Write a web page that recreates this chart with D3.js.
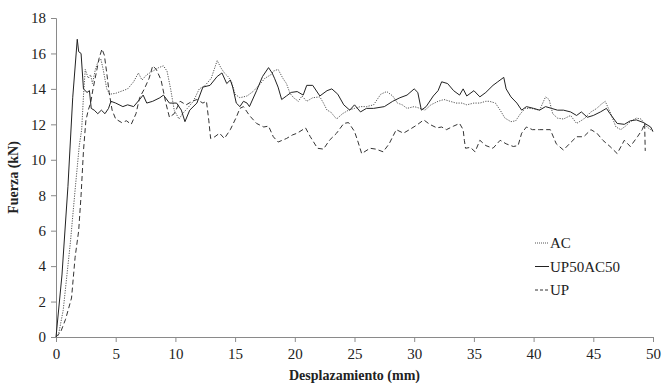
<!DOCTYPE html>
<html>
<head>
<meta charset="utf-8">
<script src="https://cdn.jsdelivr.net/npm/d3@7"></script>
<style>
  body { margin: 0; background: #fff; }
  svg { display: block; font-family: "Liberation Serif", "Times New Roman", serif; }
</style>
</head>
<body>
<div id="chart"></div>
<script>
// ensayo fuerza-desplazamiento, tres materiales
var seriesNames = ["AC", "UP50AC50", "UP"];
var xTicks = [0, 5, 10, 15, 20, 25, 30, 35, 40, 45, 50];
var yTicks = [0, 2, 4, 6, 8, 10, 12, 14, 16, 18];

var acData = [[0,0],[0.2,0.1],[0.6,1.5],[1.2,5.3],[1.6,8.3],[1.95,10.8],[2.15,11.7],[2.3,13.6],[2.45,15.1],[2.7,14.6],[2.9,14.8],[3.05,14.3],[3.3,15.1],[3.5,15.5],[3.75,15.7],[3.95,15.1],[4.25,14.0],[4.5,13.7],[5.0,13.75],[5.6,13.9],[6.0,14.0],[6.5,14.4],[6.9,14.9],[7.2,14.5],[7.6,14.8],[8.1,15.0],[8.6,15.2],[9.0,15.3],[9.3,15.0],[9.6,14.0],[9.9,12.8],[10.3,12.3],[10.6,12.6],[11.0,12.9],[11.5,13.3],[12.0,14.0],[12.5,14.2],[13.0,14.6],[13.3,15.2],[13.5,15.6],[13.8,15.2],[14.1,14.9],[14.4,14.7],[14.7,14.4],[15.0,13.7],[15.4,13.5],[16.0,13.6],[16.5,13.85],[17.0,14.2],[17.5,14.6],[18.0,14.8],[18.2,15.0],[18.6,15.1],[19.0,14.6],[19.3,14.3],[19.6,13.75],[19.9,13.5],[20.3,13.3],[20.6,13.6],[21.0,13.3],[21.5,13.5],[22.1,13.55],[22.4,13.2],[22.7,12.8],[23.0,12.7],[23.5,12.3],[24.0,12.6],[24.5,12.8],[25.0,12.9],[25.5,13.0],[26.0,13.0],[26.6,13.1],[27.2,13.7],[27.7,13.85],[28.2,13.6],[28.6,13.2],[29.0,13.1],[29.4,12.9],[30.0,13.0],[30.5,12.9],[30.9,12.8],[31.4,13.1],[32.0,13.3],[32.5,13.4],[33.0,13.3],[33.5,13.2],[34.0,13.2],[34.4,13.1],[35.0,13.2],[35.5,13.2],[36.0,13.3],[36.3,13.3],[36.8,13.2],[37.2,12.8],[37.6,12.35],[38.1,12.15],[38.5,12.2],[38.9,12.6],[39.3,12.9],[39.8,12.9],[40.5,12.8],[41.0,13.55],[41.3,13.4],[41.6,12.6],[42.0,12.35],[42.5,12.3],[43.1,12.5],[43.6,12.05],[44.2,12.3],[44.8,12.7],[45.3,12.9],[45.6,13.1],[46.0,13.3],[46.4,12.7],[46.9,11.85],[47.3,11.7],[47.7,11.9],[48.1,12.15],[48.6,12.35],[49.0,12.3],[49.5,11.85],[50.0,11.6]];

var upacData = [[0,0],[0.5,3.5],[1.0,8.5],[1.4,13.5],[1.78,16.8],[1.9,16.1],[2.1,16.0],[2.3,14.0],[2.6,13.8],[2.8,13.9],[2.95,12.9],[3.2,12.8],[3.5,12.6],[3.8,12.8],[4.1,12.6],[4.4,12.9],[4.6,13.3],[5.0,13.2],[5.6,13.0],[6.0,13.1],[6.5,13.0],[7.0,13.4],[7.3,13.65],[7.6,13.2],[8.1,13.3],[8.7,13.5],[9.0,13.65],[9.5,13.2],[10.1,13.2],[10.5,12.8],[10.8,12.15],[11.2,12.8],[11.8,13.2],[12.3,14.1],[12.9,14.2],[13.5,14.7],[13.9,14.9],[14.3,14.3],[14.6,14.5],[14.8,14.1],[15.1,13.2],[15.4,13.0],[15.7,13.3],[16.0,13.2],[16.2,13.0],[16.8,13.9],[17.3,14.7],[17.8,15.2],[18.1,14.9],[18.3,14.6],[18.6,14.1],[18.9,13.4],[19.3,13.6],[19.7,13.8],[20.2,13.85],[20.7,13.65],[21.0,14.2],[21.5,14.2],[22.1,13.6],[22.7,13.9],[23.1,14.0],[23.6,13.7],[24.1,13.1],[24.6,12.8],[25.0,13.1],[25.5,12.7],[26.0,12.9],[26.6,12.9],[27.5,13.0],[28.2,13.3],[28.8,13.5],[29.4,13.65],[30.0,14.0],[30.3,13.8],[30.6,12.8],[31.0,13.0],[31.6,13.6],[32.0,13.9],[32.3,14.4],[32.8,14.3],[33.3,13.9],[33.8,13.65],[34.1,14.0],[34.4,13.6],[35.0,13.9],[35.5,13.55],[36.0,13.8],[36.6,14.2],[37.0,14.4],[37.5,14.65],[37.7,14.0],[38.1,13.55],[38.6,13.2],[39.0,12.8],[39.4,13.0],[40.0,12.9],[40.5,12.8],[41.0,13.0],[41.5,12.9],[42.0,12.8],[42.5,12.8],[43.1,12.7],[43.6,12.5],[44.0,12.7],[44.5,12.4],[45.0,12.5],[45.6,12.7],[46.1,12.9],[46.4,12.6],[47.0,12.05],[47.6,12.0],[48.1,12.2],[48.6,12.25],[49.2,12.1],[49.8,11.85],[50.0,11.6]];

var upData = [[0,0],[0.4,0.3],[0.8,1.0],[1.3,2.2],[1.6,4.5],[1.9,6.0],[2.1,8.0],[2.3,10.5],[2.5,12.2],[2.7,12.8],[2.9,13.2],[3.1,14.0],[3.4,15.0],[3.6,15.7],[3.85,16.25],[4.05,15.9],[4.25,14.9],[4.45,13.8],[4.7,12.8],[5.0,12.3],[5.5,12.1],[5.9,12.2],[6.3,12.0],[6.7,12.6],[7.0,13.5],[7.4,14.0],[7.8,14.6],[8.1,15.3],[8.4,15.1],[8.8,14.5],[9.2,13.2],[9.5,12.4],[9.9,12.6],[10.4,13.3],[10.9,13.1],[11.4,13.3],[11.8,13.4],[12.3,13.2],[12.6,13.3],[12.8,12.2],[12.95,11.2],[13.3,11.3],[13.7,11.5],[14.1,11.2],[14.6,11.7],[15.1,12.4],[15.4,12.9],[15.7,13.0],[16.0,12.7],[16.2,12.5],[16.8,12.05],[17.4,11.85],[17.8,11.9],[18.2,11.3],[18.6,11.0],[19.3,11.2],[19.8,11.4],[20.2,11.5],[20.9,11.8],[21.3,11.3],[21.9,10.65],[22.4,10.6],[22.9,11.1],[23.5,11.5],[24.1,12.05],[24.5,12.1],[25.0,11.6],[25.3,11.0],[25.6,10.35],[26.3,10.65],[26.8,10.6],[27.4,10.45],[27.9,10.9],[28.5,11.7],[29.1,11.5],[29.6,11.7],[30.2,11.95],[30.8,12.25],[31.3,12.0],[31.9,11.8],[32.3,11.85],[32.7,11.7],[33.3,11.9],[33.8,12.05],[34.1,11.7],[34.2,11.1],[34.3,10.65],[34.7,10.7],[35.1,10.45],[35.5,11.1],[36.0,10.8],[36.6,10.65],[37.2,11.1],[37.7,10.9],[38.3,10.75],[38.7,10.8],[39.0,11.5],[39.4,11.85],[39.9,11.7],[40.5,11.7],[41.0,11.7],[41.4,11.7],[41.9,10.9],[42.5,10.55],[43.0,10.9],[43.6,11.3],[44.2,11.3],[44.8,11.7],[45.3,11.5],[45.8,11.1],[46.4,10.75],[47.0,10.35],[47.6,11.1],[48.1,10.75],[48.7,11.3],[49.1,11.7],[49.3,12.05],[49.35,10.5]];

var margin = {top: 18, right: 9, bottom: 46, left: 56},
    width = 662 - margin.left - margin.right,
    height = 383 - margin.top - margin.bottom;

var svg = d3.select("#chart")
  .append("svg")
  .attr("width", 662)
  .attr("height", 383)
  .append("g")
  .attr("transform", "translate(" + margin.left + "," + margin.top + ")");

var x = d3.scaleLinear().domain([0, 50]).range([0, width]);
var y = d3.scaleLinear().domain([0, 18]).range([height, 0]);

var xAxis = svg.append("g")
  .attr("transform", "translate(0," + height + ")")
  .call(d3.axisBottom(x).tickValues(xTicks).tickSize(5).tickPadding(6));
var yAxis = svg.append("g")
  .call(d3.axisLeft(y).tickValues(yTicks).tickSize(5).tickPadding(5));

[xAxis, yAxis].forEach(function(a) {
  a.select(".domain").attr("stroke", "#8a8a8a");
  a.selectAll(".tick line").attr("stroke", "#8a8a8a");
  a.selectAll(".tick text")
    .attr("fill", "#222")
    .style("font-size", "15px")
    .style("font-family", "Liberation Serif");
});

var line = d3.line()
  .x(function(d) { return x(d[0]); })
  .y(function(d) { return y(d[1]); });

var styles = {
  "AC": {data: acData, dash: "1.2,1.3", color: "#555", w: 1},
  "UP50AC50": {data: upacData, dash: null, color: "#222", w: 1},
  "UP": {data: upData, dash: "5,3", color: "#333", w: 1}
};

seriesNames.forEach(function(n) {
  var s = styles[n];
  svg.append("path")
    .datum(s.data)
    .attr("fill", "none")
    .attr("stroke", s.color)
    .attr("stroke-width", s.w)
    .attr("stroke-dasharray", s.dash)
    .attr("stroke-linejoin", "round")
    .attr("d", line);
});

// legend
var legend = svg.append("g").attr("transform", "translate(479,230)");
seriesNames.forEach(function(n, i) {
  var s = styles[n];
  var g = legend.append("g").attr("transform", "translate(0," + (i * 23.5) + ")");
  g.append("line")
    .attr("x1", 0).attr("x2", 14)
    .attr("y1", -5).attr("y2", -5)
    .attr("stroke", s.color)
    .attr("stroke-width", 1)
    .attr("stroke-dasharray", s.dash ? (n == "UP" ? "3,2" : "1,1") : null);
  g.append("text")
    .attr("x", 15)
    .attr("y", 0)
    .style("font-size", "15px")
    .attr("fill", "#222")
    .text(n);
});

// axis titles
svg.append("text")
  .attr("x", width / 2)
  .attr("y", height + 43)
  .attr("text-anchor", "middle")
  .style("font-size", "14px")
  .style("font-weight", "bold")
  .attr("fill", "#222")
  .text("Desplazamiento (mm)");

svg.append("text")
  .attr("transform", "rotate(-90)")
  .attr("x", -height / 2)
  .attr("y", -38)
  .attr("text-anchor", "middle")
  .style("font-size", "14px")
  .style("font-weight", "bold")
  .attr("fill", "#222")
  .text("Fuerza (kN)");
</script>
</body>
</html>
